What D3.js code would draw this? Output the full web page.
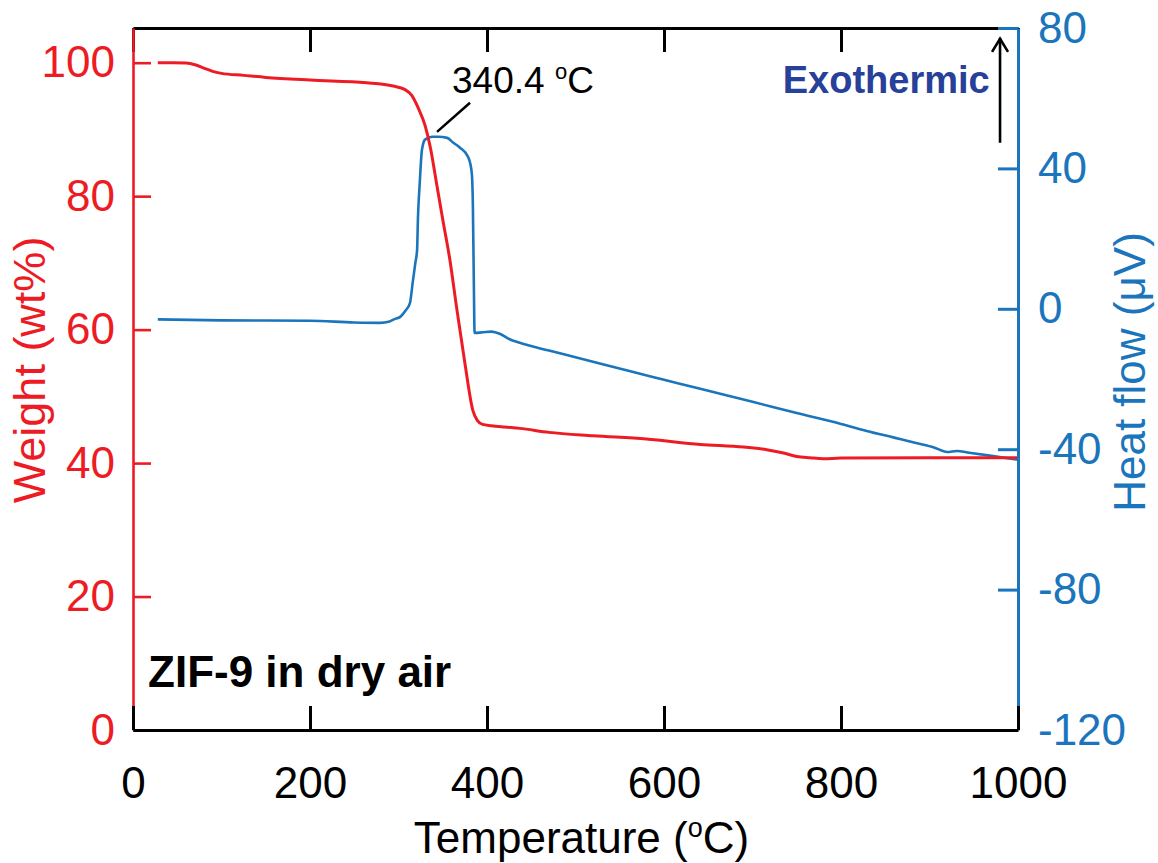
<!DOCTYPE html>
<html lang="en">
<head>
    <meta charset="UTF-8">
    <title>ZIF-9 TGA / DTA</title>
    <script src="https://d3js.org/d3.v7.min.js"></script>
    <style>
        body {
            margin: 0;
            padding: 0;
            background-color: #ffffff;
        }
        svg {
            display: block;
            font-family: Arial, "Liberation Sans", sans-serif;
        }
        .tick text {
            font-size: 44px;
        }
    </style>
</head>
<body>
    <svg width="1158" height="863"></svg>

    <script>
        // Weight curve (TGA)
        const weightTemp = [28, 45, 60, 70, 80, 90, 100, 125, 150, 200, 264, 294, 307, 315, 322, 330, 336, 343, 350, 358,
            366, 375, 384, 389, 395, 405, 420, 437, 470, 520, 580, 641, 690, 716, 735, 750, 765, 780, 800, 900, 1000];
        const weightVal = [100.0, 100.0, 99.95, 99.7, 99.2, 98.7, 98.4, 98.1, 97.8, 97.4, 97.0, 96.5, 96.0, 95.1, 93.3, 90.6, 87.3, 81.9, 76.5, 70.5,
            63.0, 55.0, 47.9, 46.4, 45.8, 45.6, 45.4, 45.2, 44.6, 44.1, 43.6, 42.8, 42.4, 42.0, 41.5, 41.0, 40.8, 40.65, 40.75, 40.8, 40.8];

        // Heat flow curve (DTA)
        const heatTemp = [28, 100, 200, 250, 279, 290, 295, 302, 308, 313, 316, 319, 321, 322, 324, 326.5, 330, 338, 345, 355,
            362, 369.5, 378.5, 381, 383, 384, 385, 386, 395, 405, 415, 425, 437, 470, 500, 562, 600, 641, 700, 750,
            800, 829, 860, 886, 905, 920, 931, 945, 970, 1000];
        const heatVal = [-3.0, -3.3, -3.4, -3.9, -4.0, -3.6, -3.0, -2.3, -0.5, 1.7, 7.4, 13.0, 16.8, 26.0, 35.8, 45.3, 48.2, 49.0, 49.0, 48.7,
            47.3, 45.9, 43.3, 41.5, 38.0, 30.0, 10.0, -6.9, -6.7, -6.5, -7.2, -8.6, -9.7, -11.9, -13.8, -17.8, -20.2, -22.8, -26.5, -29.7,
            -32.8, -34.8, -36.7, -38.3, -39.5, -40.8, -40.5, -41.0, -41.9, -43.0];

        // Tick values
        const xTicks = [0, 200, 400, 600, 800, 1000];
        const weightTicks = [0, 20, 40, 60, 80, 100];
        const heatTicks = [-120, -80, -40, 0, 40, 80];

        const red = "#ed1c24";
        const blue = "#1b75bc";
        const darkBlue = "#27409a";

        const margin = {top: 28, right: 140, bottom: 133, left: 133};
        const width = 1158 - margin.left - margin.right;
        const height = 863 - margin.top - margin.bottom;

        const svg = d3.select("svg")
            .append("g")
            .attr("transform", `translate(${margin.left},${margin.top})`);

        // Scales
        const x = d3.scaleLinear().domain([0, 1000]).range([0, width]);
        const yW = d3.scaleLinear().domain([0, 105.2]).range([height, 0]);
        const yH = d3.scaleLinear().domain([-120, 80]).range([height, 0]);

        // Curves
        const weightData = weightTemp.map((t, i) => [t, weightVal[i]]);
        const heatData = heatTemp.map((t, i) => [t, heatVal[i]]);

        svg.append("path")
            .datum(heatData)
            .attr("fill", "none")
            .attr("stroke", blue)
            .attr("stroke-width", 2.6)
            .attr("d", d3.line().x(d => x(d[0])).y(d => yH(d[1])).curve(d3.curveMonotoneX));

        svg.append("path")
            .datum(weightData)
            .attr("fill", "none")
            .attr("stroke", red)
            .attr("stroke-width", 3)
            .attr("d", d3.line().x(d => x(d[0])).y(d => yW(d[1])).curve(d3.curveMonotoneX));

        // Axes
        function styleAxis(g, color, lw) {
            g.select(".domain").attr("stroke", color).attr("stroke-width", lw);
            g.selectAll(".tick line").attr("stroke", color).attr("stroke-width", lw);
            g.selectAll(".tick text").attr("fill", color).style("font-size", "44px")
                .style("font-family", "Arial, 'Liberation Sans', sans-serif");
        }

        svg.append("g")
            .call(d3.axisTop(x).tickValues(xTicks).tickSizeInner(-24).tickSizeOuter(0).tickFormat(""))
            .call(g => styleAxis(g, "#000", 3));

        svg.append("g")
            .call(d3.axisLeft(yW).tickValues(weightTicks).tickSizeInner(-18).tickSizeOuter(0).tickPadding(18))
            .call(g => styleAxis(g, red, 2.6));

        svg.append("g")
            .attr("transform", `translate(${width},0)`)
            .call(d3.axisRight(yH).tickValues(heatTicks).tickSizeInner(-20).tickSizeOuter(0).tickPadding(20)
                .tickFormat(d => d < 0 ? "-" + Math.abs(d) : d))
            .call(g => styleAxis(g, blue, 3));

        svg.append("g")
            .attr("transform", `translate(0,${height})`)
            .call(d3.axisBottom(x).tickValues(xTicks).tickSizeInner(-24).tickSizeOuter(0).tickPadding(37)
                .tickFormat(d3.format("d")))
            .call(g => styleAxis(g, "#000", 3));

        // Axis titles
        const xTitle = svg.append("text")
            .attr("x", width / 2 + 6)
            .attr("y", height + 123)
            .attr("text-anchor", "middle")
            .style("font-size", "44px")
            .attr("fill", "#000");
        xTitle.append("tspan").text("Temperature (");
        xTitle.append("tspan").text("o").style("font-size", "27px").attr("dy", -16);
        xTitle.append("tspan").text("C)").attr("dy", 16);

        svg.append("text")
            .attr("transform", `translate(${45 - margin.left},${342}) rotate(-90)`)
            .attr("text-anchor", "middle")
            .style("font-size", "45px")
            .attr("fill", red)
            .text("Weight (wt%)");

        svg.append("text")
            .attr("transform", `translate(${1145 - margin.left},${344}) rotate(-90)`)
            .attr("text-anchor", "middle")
            .style("font-size", "44px")
            .attr("fill", blue)
            .text("Heat flow (\u03bcV)");

        // Annotations
        svg.append("line")
            .attr("x1", x(380.8)).attr("y1", yH(58.7))
            .attr("x2", x(343.5)).attr("y2", yH(50.4))
            .attr("stroke", "#000")
            .attr("stroke-width", 2.5);

        const peak = svg.append("text")
            .attr("x", x(360.5))
            .attr("y", yH(61.5))
            .style("font-size", "37px")
            .attr("fill", "#000");
        peak.append("tspan").text("340.4 ");
        peak.append("tspan").text("o").style("font-size", "22px").attr("dy", -14);
        peak.append("tspan").text("C").attr("dy", 14);

        svg.append("text")
            .attr("x", x(968))
            .attr("y", yH(61.5))
            .attr("text-anchor", "end")
            .style("font-size", "38px")
            .style("font-weight", "bold")
            .attr("fill", darkBlue)
            .text("Exothermic");

        // Exothermic arrow
        const ax = x(979.7);
        svg.append("line")
            .attr("x1", ax).attr("y1", yH(47.3))
            .attr("x2", ax).attr("y2", yH(77.2))
            .attr("stroke", "#000")
            .attr("stroke-width", 2.6);
        svg.append("path")
            .attr("d", `M${ax - 8},${yH(77.2) + 14} L${ax},${yH(77.2) + 1} L${ax + 8},${yH(77.2) + 14}`)
            .attr("fill", "none")
            .attr("stroke", "#000")
            .attr("stroke-width", 2.6);

        svg.append("text")
            .attr("x", x(17))
            .attr("y", yW(6.4))
            .style("font-size", "44px")
            .style("font-weight", "bold")
            .attr("fill", "#000")
            .text("ZIF-9 in dry air");
    </script>
</body>
</html>
